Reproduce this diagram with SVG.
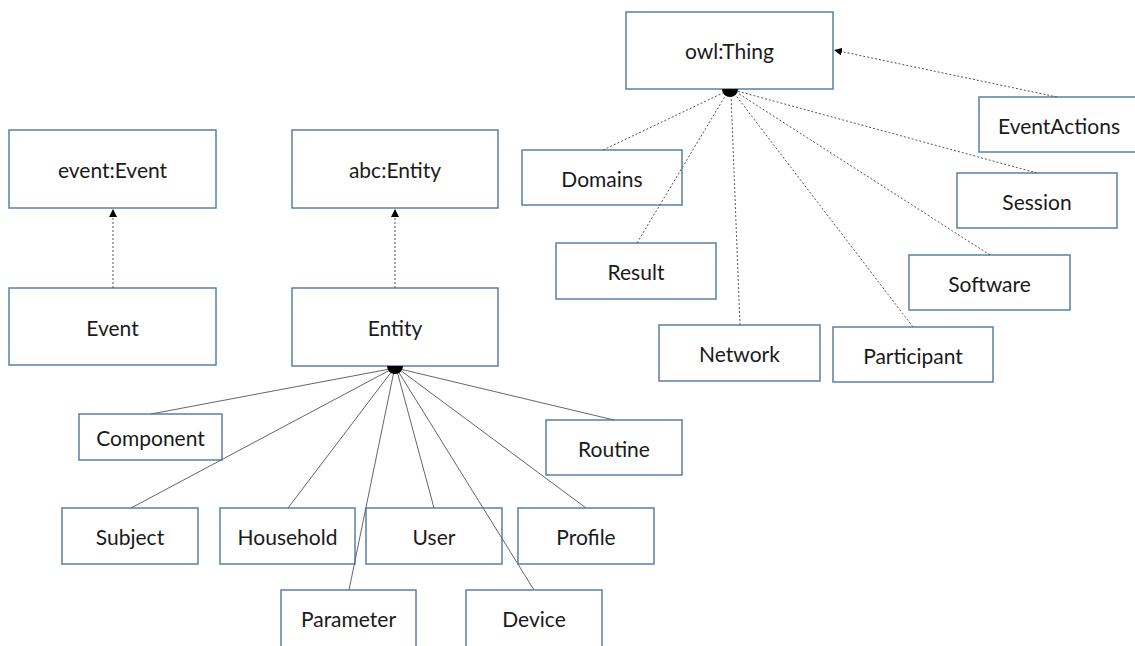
<svg xmlns="http://www.w3.org/2000/svg" width="1135" height="646" viewBox="0 0 1135 646">
  <style>
    .box { fill: none; stroke: #5a7fa8; stroke-width: 1.5; }
    .lbl { font-family: Lato, "Open Sans", "Liberation Sans", sans-serif; font-size: 21px; fill: #1a1a1a; text-anchor: middle; dominant-baseline: central; }
    .dash { fill: none; stroke: #555555; stroke-width: 1; stroke-dasharray: 2 2; }
    .solid { fill: none; stroke: #666666; stroke-width: 1; }
    .dot { fill: #000000; }
  </style>
  <defs>
    <marker id="tri" viewBox="0 0 10 10" refX="10" refY="5" markerWidth="8" markerHeight="8" markerUnits="userSpaceOnUse" orient="auto">
      <path d="M0,0 L10,5 L0,10 Z" fill="#000"/>
    </marker>
  </defs>

  <g id="owl-thing"><rect class="box" x="626" y="12" width="207" height="77"/><text class="lbl" x="729.5" y="50.5">owl:Thing</text></g>
  <g id="event-actions"><rect class="box" x="979" y="97" width="160" height="55"/><text class="lbl" x="1059" y="125">EventActions</text></g>
  <g id="domains"><rect class="box" x="522" y="150" width="160" height="55"/><text class="lbl" x="602" y="178">Domains</text></g>
  <g id="session"><rect class="box" x="957" y="173" width="160" height="55"/><text class="lbl" x="1037" y="201">Session</text></g>
  <g id="result"><rect class="box" x="556" y="243" width="160" height="56"/><text class="lbl" x="636" y="271">Result</text></g>
  <g id="software"><rect class="box" x="909" y="255" width="161" height="55"/><text class="lbl" x="989.5" y="283">Software</text></g>
  <g id="network"><rect class="box" x="659" y="325" width="161" height="56"/><text class="lbl" x="739.5" y="353">Network</text></g>
  <g id="participant"><rect class="box" x="833" y="327" width="160" height="55"/><text class="lbl" x="913" y="355">Participant</text></g>

  <g id="event-event"><rect class="box" x="9" y="130" width="207" height="78"/><text class="lbl" x="112.5" y="169">event:Event</text></g>
  <g id="event"><rect class="box" x="9" y="288" width="207" height="77"/><text class="lbl" x="112.5" y="327">Event</text></g>
  <g id="abc-entity"><rect class="box" x="292" y="130" width="206" height="78"/><text class="lbl" x="395" y="169">abc:Entity</text></g>
  <g id="entity"><rect class="box" x="292" y="288" width="206" height="78"/><text class="lbl" x="395" y="327">Entity</text></g>

  <g id="component"><rect class="box" x="79" y="414" width="143" height="46"/><text class="lbl" x="150.5" y="437">Component</text></g>
  <g id="routine"><rect class="box" x="546" y="420" width="136" height="55"/><text class="lbl" x="614" y="448">Routine</text></g>
  <g id="subject"><rect class="box" x="62" y="508" width="136" height="56"/><text class="lbl" x="130" y="536">Subject</text></g>
  <g id="household"><rect class="box" x="220" y="508" width="135" height="56"/><text class="lbl" x="287.5" y="536">Household</text></g>
  <g id="user"><rect class="box" x="366" y="508" width="136" height="56"/><text class="lbl" x="434" y="536">User</text></g>
  <g id="profile"><rect class="box" x="518" y="508" width="136" height="56"/><text class="lbl" x="586" y="536">Profile</text></g>
  <g id="parameter"><rect class="box" x="281" y="590" width="135" height="60"/><text class="lbl" x="348.5" y="618">Parameter</text></g>
  <g id="device"><rect class="box" x="466" y="590" width="136" height="60"/><text class="lbl" x="534" y="618">Device</text></g>

  <!-- connectors, drawn over the boxes -->
  <g id="connectors">
    <line class="dash" x1="113" y1="288" x2="113" y2="209" marker-end="url(#tri)"/>
    <line class="dash" x1="395" y1="288" x2="395" y2="209" marker-end="url(#tri)"/>
    <line class="dash" x1="1057" y1="97" x2="834" y2="50" marker-end="url(#tri)"/>

    <line class="dash" x1="603" y1="150" x2="725" y2="92"/>
    <line class="dash" x1="637" y1="243" x2="727" y2="93"/>
    <line class="dash" x1="740" y1="325" x2="731" y2="94"/>
    <line class="dash" x1="913" y1="327" x2="734" y2="93"/>
    <line class="dash" x1="990" y1="255" x2="736" y2="92"/>
    <line class="dash" x1="1037" y1="173" x2="737" y2="91"/>

    <line class="solid" x1="151" y1="414" x2="390" y2="369"/>
    <line class="solid" x1="614" y1="420" x2="400" y2="369"/>
    <line class="solid" x1="131" y1="508" x2="390" y2="370"/>
    <line class="solid" x1="288" y1="508" x2="392" y2="371"/>
    <line class="solid" x1="434" y1="508" x2="397" y2="371"/>
    <line class="solid" x1="586" y1="508" x2="400" y2="370"/>
    <line class="solid" x1="349" y1="590" x2="394" y2="371"/>
    <line class="solid" x1="534" y1="590" x2="398" y2="371"/>

    <path class="dot" d="M722,89 A8,8 0 0 0 738,89 Z"/>
    <path class="dot" d="M387,366 A8,8 0 0 0 403,366 Z"/>
  </g>
</svg>
